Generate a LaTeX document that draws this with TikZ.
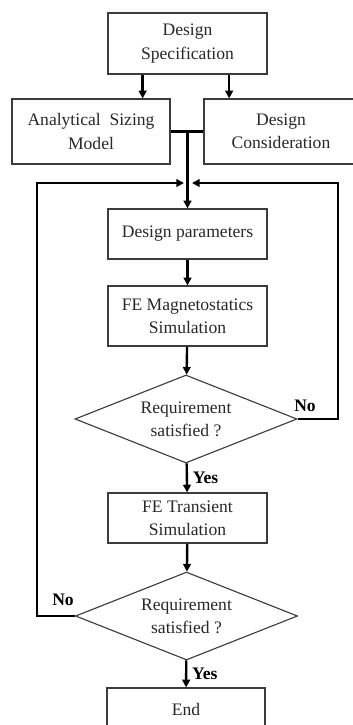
\documentclass[tikz,border=0pt]{standalone}
\usepackage{fontspec}
\setmainfont{Liberation Serif}
\usetikzlibrary{shapes.geometric}
\usetikzlibrary{arrows,arrows.meta}
\usetikzlibrary{calc}
\definecolor{rahmen}{RGB}{60,60,60}
\definecolor{schrift}{RGB}{40,40,40}

\begin{document}
\begin{tikzpicture}[x=0.025cm, y=-0.025cm,
    box/.style={draw=rahmen, line width=0.8pt, text=schrift, align=center, inner sep=2pt,
        font=\fontsize{12.5}{16.5}\selectfont},
    frage/.style={diamond, draw=rahmen, line width=0.8pt, text=schrift, align=center, inner sep=1pt,
        aspect=2.5, minimum width=5.55cm, minimum height=2.2cm, font=\fontsize{12.5}{16.5}\selectfont},
    fluss/.style={line width=1.7pt, -{Triangle[length=5.5pt,width=5.5pt]}},
    linie/.style={line width=1.7pt},
    antwort/.style={font=\bfseries\fontsize{12.5}{15}\selectfont}]

    \useasboundingbox (0,0) rectangle (353,725);
    \clip (0,0) rectangle (353,725);

    % obere Reihe
    \node[box, minimum width=3.975cm, minimum height=1.525cm] (spec) at (187.5,43.5) {Design\\Specification};
    \node[box, minimum width=3.95cm, minimum height=1.625cm] (sizing) at (91,131.5) {Analytical~ Sizing\\Model};
    \node[box, minimum width=3.85cm, minimum height=1.625cm] (consid) at (281,131.5) {Design\\Consideration};

    % Hauptspalte
    \node[box, minimum width=3.975cm, minimum height=1.25cm] (params) at (187.5,234) {Design parameters};
    \node[box, minimum width=3.975cm, minimum height=1.5cm] (magneto) at (187.5,316) {FE Magnetostatics\\Simulation};
    \node[frage] (check1) at (186,419) {Requirement\\satisfied ?};
    \node[box, minimum width=3.975cm, minimum height=1.25cm] (transient) at (187.5,518) {FE Transient\\Simulation};
    \node[frage] (check2) at (186.5,616) {Requirement\\satisfied ?};
    \node[box, minimum width=3.95cm, minimum height=1.05cm, text depth=0pt] (end) at (186,709) {End};

    \coordinate (specL) at ($(spec.south west)!0.22!(spec.south east)$);
    \coordinate (specR) at ($(spec.south west)!0.76!(spec.south east)$);
    \coordinate (merge) at (params.north |- sizing.east);
    \coordinate (loopR) at (338,183);
    \coordinate (loopL) at (37,183);
    \coordinate (joinL) at (184,183);
    \coordinate (joinR) at (192,183);

    \draw[fluss] (specL) -- (specL |- sizing.north);
    \draw[fluss] (specR) -- (specR |- consid.north);

    \draw[linie] (sizing.east) -- (consid.west);
    \draw[fluss] (merge) -- (params.north);

    \draw[fluss] (params) -- (magneto);
    \draw[fluss] (magneto) -- (check1);
    \draw[fluss] (check1) -- (transient) node[antwort, right, pos=0.5] (yes1) {Yes};
    \draw[fluss] (transient) -- (check2);
    \draw[fluss] (check2) -- (end) node[antwort, right, pos=0.5] (yes2) {Yes};

    % Rueckfuehrungen
    \draw[fluss] (check1.east) -| (loopR) -- (joinR);
    \draw[fluss] (check2.west) -| (loopL) -- (joinL);

    \node[antwort] (no1) at (305,406) {No};
    \node[antwort] (no2) at (63,600) {No};

\end{tikzpicture}
\end{document}
